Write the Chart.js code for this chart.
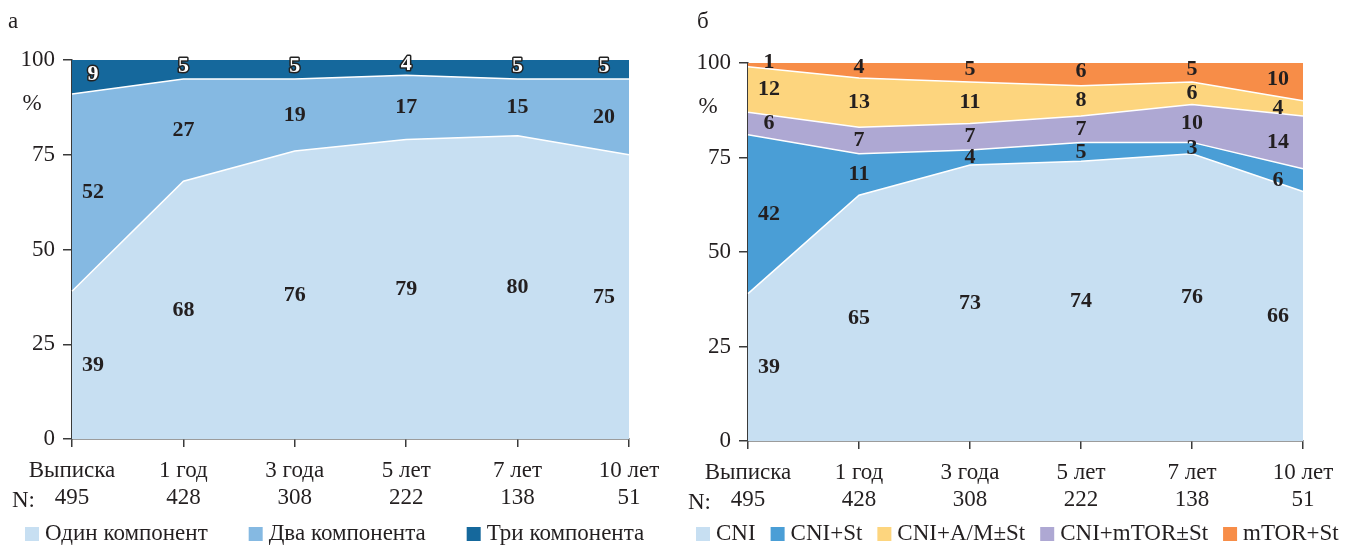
<!DOCTYPE html>
<html>
<head>
<meta charset="utf-8">
<script src="https://cdn.jsdelivr.net/npm/chart.js@4/dist/chart.umd.min.js"></script>
<style>
  body { margin: 0; background: #fff; }
  .panel { position: absolute; top: 0; height: 545px; }
</style>
</head>
<body>
<div class="panel" style="left:0;width:675px"><canvas id="chartA"></canvas></div>
<div class="panel" style="left:675px;width:676px"><canvas id="chartB"></canvas></div>
<script>
const categories = ['Выписка', '1 год', '3 года', '5 лет', '7 лет', '10 лет']
const counts = ['495', '428', '308', '222', '138', '51']
const yTicks = [0, 25, 50, 75, 100]

// panel а, bottom to top
const namesA = ['Один компонент', 'Два компонента', 'Три компонента']
const oneComp = [39, 68, 76, 79, 80, 75]
const twoComp = [52, 27, 19, 17, 15, 20]
const threeComp = [9, 5, 5, 4, 5, 5]

// panel б, bottom to top (legend order differs: A/M before mTOR)
const namesB = ['CNI', 'CNI+St', 'CNI+mTOR±St', 'CNI+A/M±St', 'mTOR+St']
const cni = [39, 65, 73, 74, 76, 66]
const cniSt = [42, 11, 4, 5, 3, 6]
const cniMtor = [6, 7, 7, 7, 10, 14]
const cniAm = [12, 13, 11, 8, 6, 4]
const mtorSt = [1, 4, 5, 6, 5, 10]
const legendOrderB = [0, 1, 3, 2, 4]

const FONT = '"Liberation Serif", "Times New Roman", serif'
const TEXT = '#231f20'
const AXIS = '#3a3a3a'

const labelPlugin = {
  id: 'panelText',
  afterDatasetsDraw(chart) {
    const o = chart.options.plugins.panelText
    const ctx = chart.ctx
    const x = chart.scales.x, y = chart.scales.y
    const sets = chart.data.datasets
    ctx.save()
    ctx.font = 'bold 22px ' + FONT
    ctx.textAlign = 'center'
    ctx.textBaseline = 'middle'
    ctx.lineJoin = 'round'
    const last = categories.length - 1
    sets.forEach((ds, i) => {
      ds.data.forEach((v, j) => {
        let base = 0
        for (let k = 0; k < i; k++) base += sets[k].data[j]
        let px = x.getPixelForValue(j)
        if (j === 0) px += 21
        if (j === last) px -= 25
        let py = y.getPixelForValue(base + v / 2)
        if (i === sets.length - 1) py -= 3
        if (o.outlineTop && i === sets.length - 1) {
          ctx.lineWidth = 3
          ctx.strokeStyle = '#222'
          ctx.strokeText(v, px, py)
          ctx.fillStyle = '#fff'
          ctx.fillText(v, px, py)
        } else {
          ctx.fillStyle = TEXT
          ctx.fillText(v, px, py)
        }
      })
    })
    ctx.restore()
  },
  afterDraw(chart) {
    const o = chart.options.plugins.panelText
    const ctx = chart.ctx
    const area = chart.chartArea
    const sets = chart.data.datasets
    ctx.save()
    ctx.fillStyle = TEXT
    ctx.font = '23px ' + FONT
    ctx.textBaseline = 'middle'
    ctx.textAlign = 'left'
    ctx.fillText(o.letter, o.letterX, 22)
    ctx.fillText('N:', area.left - 60, area.bottom + 62)
    ctx.textAlign = 'center'
    ctx.fillText('%', area.left - 40, chart.scales.y.getPixelForValue(88.5))
    // legend
    ctx.textAlign = 'left'
    let lx = o.legendX
    const ly = 534
    const order = o.legendOrder || sets.map((d, i) => i)
    order.forEach(i => {
      const ds = sets[i]
      ctx.fillStyle = ds.backgroundColor
      ctx.fillRect(lx, ly - 7, 14, 14)
      ctx.fillStyle = TEXT
      ctx.fillText(ds.label, lx + 20, ly)
      lx += 20 + ctx.measureText(ds.label).width + o.legendGap
    })
    ctx.restore()
  }
}

function makeChart(id, names, series, colors, opts) {
  const datasets = series.map((s, i) => ({
    label: names[i],
    data: s,
    backgroundColor: colors[i],
    borderColor: '#fff',
    borderWidth: i === series.length - 1 ? 0 : 1.5,
    fill: i === 0 ? 'origin' : '-1',
    pointRadius: 0,
    tension: 0
  }))
  const ctx = document.getElementById(id).getContext('2d')
  return new Chart(ctx, {
    type: 'line',
    data: { labels: categories.map((c, i) => [c, counts[i]]), datasets: datasets },
    options: {
      responsive: true,
      maintainAspectRatio: false,
      animation: false,
      layout: { padding: { top: opts.top, right: opts.right, bottom: opts.bottom, left: 0 } },
      plugins: {
        legend: { display: false },
        tooltip: { enabled: false },
        panelText: opts
      },
      scales: {
        x: {
          offset: false,
          grid: { display: true, drawOnChartArea: false, tickLength: 8, color: AXIS, lineWidth: 1.5, offset: false },
          border: { display: true, color: AXIS, width: 1.5 },
          ticks: { color: TEXT, font: { family: FONT, size: 23, lineHeight: '27px' }, padding: 10, maxRotation: 0, autoSkip: false },
          afterFit: s => { s.height = 75 }
        },
        y: {
          stacked: true,
          min: 0,
          max: 100,
          afterBuildTicks: s => { s.ticks = yTicks.map(v => ({ value: v })) },
          grid: { display: true, drawOnChartArea: false, tickLength: 9, color: AXIS, lineWidth: 1.5 },
          border: { display: true, color: AXIS, width: 1.5 },
          ticks: { color: TEXT, font: { family: FONT, size: 23 }, padding: 8 },
          afterFit: s => { s.width = opts.axisWidth }
        }
      }
    },
    plugins: [labelPlugin]
  })
}

makeChart('chartA', namesA, [oneComp, twoComp, threeComp],
  ['#c7dff2', '#85b9e2', '#15689c'],
  { letter: 'а', letterX: 8, top: 60, right: 46, bottom: 31, axisWidth: 72, legendX: 25, legendGap: 41, outlineTop: true })

makeChart('chartB', namesB, [cni, cniSt, cniMtor, cniAm, mtorSt],
  ['#c7dff2', '#4a9ed6', '#aea8d3', '#fdd57e', '#f78d48'],
  { letter: 'б', letterX: 22, top: 63, right: 48, bottom: 29, axisWidth: 73, legendX: 21, legendGap: 15, legendOrder: legendOrderB, outlineTop: false })
</script>
</body>
</html>
